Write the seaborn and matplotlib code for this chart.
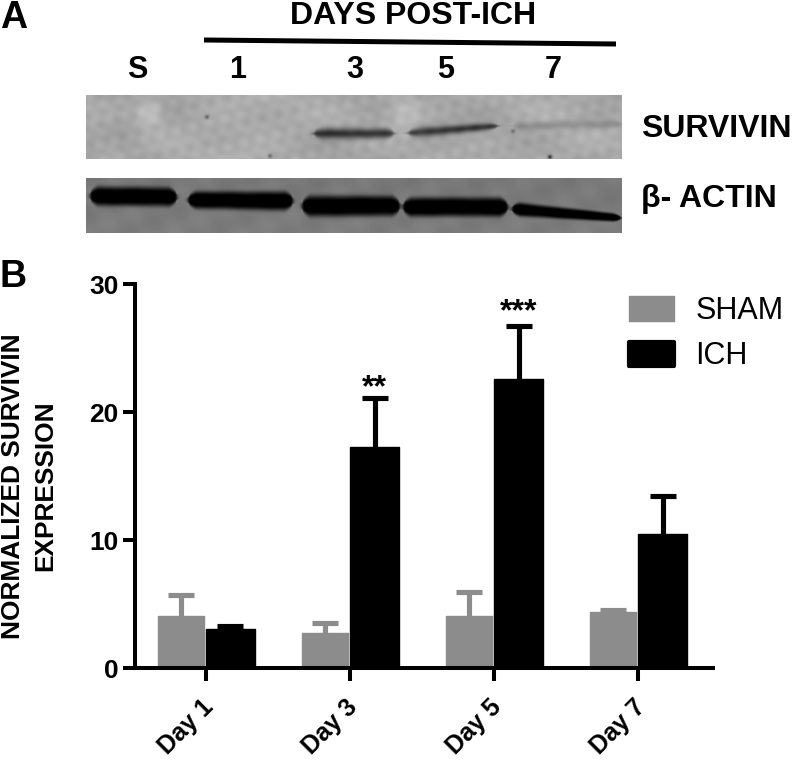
import numpy as np
import pandas as pd
import matplotlib
matplotlib.use("Agg")
import matplotlib.pyplot as plt
from matplotlib.transforms import ScaledTranslation
import seaborn as sns

days = ["Day 1", "Day 3", "Day 5", "Day 7"]
sham_mean = [4.05, 2.75, 4.1, 4.4]
sham_top = [5.7, 3.5, 5.9, 4.5]
ich_mean = [3.05, 17.3, 22.6, 10.5]
ich_top = [3.3, 21.1, 26.7, 13.4]
groups = ["SHAM", "ICH"]
group_colors = ["#8c8c8c", "#000000"]
stars = {("ICH", "Day 3"): ("**", -4), ("ICH", "Day 5"): ("***", -1)}
yticks = [0, 10, 20, 30]
lane_labels = ["S", "1", "3", "5", "7"]

W, H = 792, 763
sns.set_style("ticks")
plt.rcParams["font.family"] = ["Liberation Sans", "DejaVu Sans"]
plt.rcParams["text.color"] = "black"
plt.rcParams["xtick.color"] = "black"
plt.rcParams["ytick.color"] = "black"
plt.rcParams["axes.edgecolor"] = "black"
fig = plt.figure(figsize=(W / 100, H / 100), dpi=100)

# ---------- Panel B ----------
L, R, T, B = 135, 713, 284, 668
ax = fig.add_axes([L / W, 1 - B / H, (R - L) / W, (B - T) / H])
df = pd.DataFrame({
    "day": days * 2,
    "group": ["SHAM"] * 4 + ["ICH"] * 4,
    "value": sham_mean + ich_mean,
})
sns.barplot(data=df, x="day", y="value", hue="group", hue_order=groups,
            palette=group_colors, width=0.68, errorbar=None, saturation=1,
            ax=ax, zorder=2)
px = 1 / 144  # one pixel in category units
for cont, name, tops, col in zip(ax.containers, groups, [sham_top, ich_top], group_colors):
    for bar, top, day, mean in zip(cont, tops, days, df[df.group == name].value):
        bar.set_edgecolor(col)
        bar.set_linewidth(1.0)
        bar.set_joinstyle("round")
        if name == "SHAM":
            bar.set_width(bar.get_width() - 3 * px)
            bar.set_x(bar.get_x() + 1 * px)
        cx = bar.get_x() + bar.get_width() / 2
        _, caps, _ = ax.errorbar(cx, mean, yerr=[[0], [top - mean]], color=col, elinewidth=3.7,
                                 capsize=9.6, capthick=3.7, zorder=1, clip_on=False)
        caps[0].set_visible(False)
        if (name, day) in stars:
            s, off = stars[(name, day)]
            ax.annotate(s, (cx, top), xytext=(0, off),
                        textcoords="offset points", ha="center", va="bottom",
                        fontsize=23, fontweight="bold", color="black")

ax.set_xlim(-0.493, 3.52)
ax.set_ylim(0, 30)
ax.set_yticks(yticks)
ax.set_xlabel("")
ax.set_ylabel("")
sns.despine(ax=ax)
for s in ("left", "bottom"):
    ax.spines[s].set_linewidth(2.9)
ax.tick_params(axis="y", length=9, width=2.9, labelsize=19, pad=3)
ax.tick_params(axis="x", length=9.5, width=2.9, labelsize=18, pad=10)
for t in ax.get_yticklabels():
    t.set_fontweight("bold")
shift = ScaledTranslation(-5 / 100, 0, fig.dpi_scale_trans)
for t in ax.get_xticklabels():
    t.set_fontweight("bold")
    t.set_rotation(45)
    t.set_ha("right")
    t.set_rotation_mode("anchor")
    t.set_transform(t.get_transform() + shift)

leg = ax.legend(loc="upper left", bbox_to_anchor=((628.5 - L) / (R - L), 1 - (296 - T) / (B - T)),
                frameon=False, fontsize=22, handlelength=1.5, handleheight=0.85,
                handletextpad=0.68, labelspacing=0.5, borderpad=0, borderaxespad=0)
for h, c, lw in zip(leg.legend_handles, group_colors, [1.0, 3.0]):
    h.set_edgecolor(c)
    h.set_linewidth(lw)
    h.set_joinstyle("round")

fig.text(13 / W, 1 - 486 / H, "NORMALIZED SURVIVIN", rotation=90, fontsize=18.9,
         fontweight="bold", ha="center", va="center")
fig.text(45 / W, 1 - 486 / H, "EXPRESSION", rotation=90, fontsize=18.9,
         fontweight="bold", ha="center", va="center")

# ---------- Panel A ----------
ov = fig.add_axes([0, 0, 1, 1], zorder=5)
ov.axis("off")


def band(X, Y, x0, x1, yl, yr, hl, hr=None, edge=2.0, taper=8.0, power=4):
    hr = hl if hr is None else hr
    f = (X - x0) / (x1 - x0)
    c = yl + (yr - yl) * f
    end = np.clip(np.minimum(X - x0, x1 - X) / taper, 0.03, 1) ** 0.35
    half = (hl + (hr - hl) * f) * end
    hor = 0.5 * (np.tanh((X - x0) / edge) - np.tanh((X - x1) / edge))
    return hor * np.exp(-np.abs((Y - c) / half) ** power)


# survivin membrane
x1, x2, y1, y2 = 86, 622, 95, 159
X, Y = np.meshgrid(np.arange(x1, x2) + .5, np.arange(y1, y2) + .5)
img = (166 + 4 * np.sin(X / 4.1 + Y / 5.3) * np.cos(Y / 3.7 - X / 6.9)
       + 6 * np.sin(X / 17.0 + 1.3) * np.cos(Y / 9.0)
       + 4 * np.sin(X / 2.9 - Y / 7.7 + 2.0) * np.sin(X / 11.3 + Y / 3.1)
       + 4 * np.cos(X / 37.0 - Y / 13.0))
for bx, by, bs, ba in [(150, 113, 9, 30), (118, 130, 14, -12), (405, 112, 12, 24),
                       (245, 130, 40, 8), (560, 145, 35, 6), (110, 148, 12, 12)]:
    img += ba * np.exp(-((X - bx) ** 2 + (Y - by) ** 2) / (2 * bs ** 2))
img -= 118 * band(X, Y, 314, 394, 133.5, 133.5, 5.2, edge=3, power=2)
img -= 108 * band(X, Y, 408, 498, 133, 126, 5.0, 3.6, edge=3, taper=14, power=2)
img -= 28 * band(X, Y, 513, 621, 126, 124, 4.5, edge=5, power=2)
for sx, sy, sa in [(207, 117, 70), (270, 156, 60), (550, 157, 110), (513, 131, 55)]:
    img -= sa * np.exp(-((X - sx) ** 2 + (Y - sy) ** 2) / (2 * 1.5 ** 2))
ov.imshow(np.clip(img, 0, 255), extent=(x1, x2, y2, y1), cmap="gray", vmin=0, vmax=255,
          aspect="auto", interpolation="bilinear", zorder=1)

# actin membrane
y1b, y2b = 178, 233
X, Y = np.meshgrid(np.arange(x1, x2) + .5, np.arange(y1b, y2b) + .5)
img = 122 + 3 * np.sin(X / 13.0 + Y / 6.0) + 2 * np.cos(X / 5.0 - Y / 8.0) + 0.08 * (Y - 205)
for a, b, l, r, hl, hr in [(90, 177, 196, 197, 9.5, 9.5), (188, 293, 200, 201, 8.5, 9.5),
                           (302, 400, 206, 206, 10.5, 10), (403, 508, 207, 207, 9.5, 9.5),
                           (512, 621, 209, 218, 7, 4)]:
    img -= 135 * band(X, Y, a, b, l, r, hl, hr)
ov.imshow(np.clip(img, 0, 255), extent=(x1, x2, y2b, y1b), cmap="gray", vmin=0, vmax=255,
          aspect="auto", interpolation="bilinear", zorder=1)
ov.set_xlim(0, W)
ov.set_ylim(H, 0)

ov.plot([204, 616], [40, 44], color="black", lw=3.6, solid_capstyle="butt")

ov.text(413.5, 24.5, "DAYS POST-ICH", fontsize=23, fontweight="bold", ha="center", va="baseline")
for lab, lx in zip(lane_labels, [137, 238, 355, 446, 553]):
    ov.text(lx, 78, lab, fontsize=22, fontweight="bold", ha="center", va="baseline")
ov.text(641, 137, "SURVIVIN", fontsize=23, fontweight="bold", ha="left", va="baseline")
ov.text(641, 207, "β- ACTIN", fontsize=23, fontweight="bold", ha="left", va="baseline")
ov.text(0, 28.5, "A", fontsize=27, fontweight="bold", ha="left", va="baseline")
ov.text(0, 287, "B", fontsize=27, fontweight="bold", ha="left", va="baseline")

fig.savefig("out.png", dpi=100)
